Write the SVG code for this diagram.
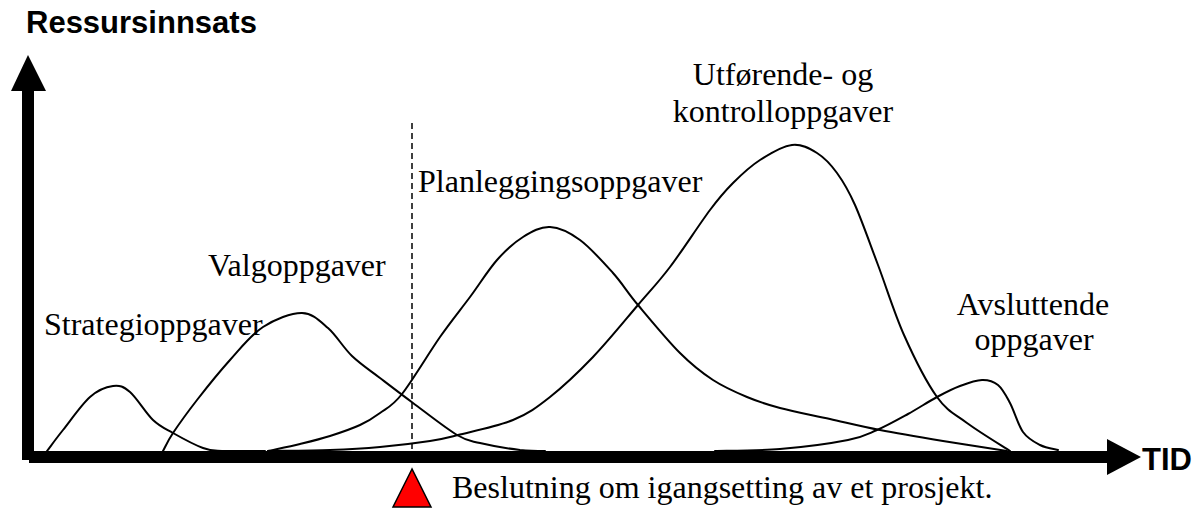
<svg xmlns="http://www.w3.org/2000/svg" width="1199" height="508" viewBox="0 0 1199 508">
<style>
.curve{fill:none;stroke:#000;stroke-width:2;stroke-linejoin:round;stroke-linecap:round}
.lbl{font-family:"Liberation Serif","Times New Roman",serif;font-size:32px;fill:#000}
.bold{font-family:"Liberation Sans",Arial,sans-serif;font-size:31px;font-weight:bold;fill:#000}
.axis{stroke:#000;stroke-width:12;fill:none}
</style>
<rect width="1199" height="508" fill="#fff"/>
<g id="axes">
<line class="axis" x1="28" y1="90" x2="28" y2="460"/>
<line class="axis" x1="29" y1="457" x2="1108" y2="457"/>
<polygon points="28,55 11,91 46,91" fill="#000"/>
<polygon points="1107,439 1141,457 1107,475" fill="#000"/>
<text class="bold" x="26" y="33">Ressursinnsats</text>
<text class="bold" x="1142" y="470">TID</text>
</g>
<g id="decision">
<line x1="412" y1="123" x2="412" y2="451" stroke="#000" stroke-width="1.5" stroke-dasharray="6 4"/>
<polygon points="412,469 393,507 431,507" fill="#ff0000" stroke="#000" stroke-width="1.5"/>
<text class="lbl" x="452" y="498">Beslutning om igangsetting av et prosjekt.</text>
</g>
<g id="connectors">
<path id="strategi-curve" class="curve" d="M47,451 C49.7,447.5 55.8,439 63,430 C70.2,421 81.7,404.3 90,397 C98.3,389.7 106.3,386.8 113,386 C119.7,385.2 123.3,386.3 130,392 C136.7,397.7 145.8,413.2 153,420 C160.2,426.8 164.7,428.3 173,433 C181.3,437.7 194.8,445 203,448 C211.2,451 211.7,450.5 222,451 L265,451"/>
<path id="valg-curve" class="curve" d="M163,451 C164.7,448 167.3,441.5 173,433 C178.7,424.5 187.5,412.2 197,400 C206.5,387.8 219,372.2 230,360 C241,347.8 251,334.8 263,327 C275,319.2 291.2,312.8 302,313 C312.8,313.2 319.7,320.8 328,328 C336.3,335.2 343.3,347.7 352,356 C360.7,364.3 369.8,370.2 380,378 C390.2,385.8 400.2,393.5 413,403 C425.8,412.5 445.8,428.3 457,435 C468.2,441.7 469.5,440.5 480,443 C490.5,445.5 509.2,448.7 520,450 C530.8,451 540.8,451 545,451"/>
<path id="planlegging-curve" class="curve" d="M268,451 C273.3,449.8 289.7,446.5 300,444 C310.3,441.5 320,439.2 330,436 C340,432.8 351.7,428.8 360,425 C368.3,421.2 373,418.2 380,413 C387,407.8 392,406.7 402,394 C412,381.3 428.7,353.2 440,337 C451.3,320.8 460.5,309.8 470,297 C479.5,284.2 488.2,270 497,260 C505.8,250 514.2,242.5 523,237 C531.8,231.5 540.5,226.5 550,227 C559.5,227.5 569.5,232.3 580,240 C590.5,247.7 603.3,262.2 613,273 C622.7,283.8 626.8,291.7 638,305 C649.2,318.3 667.5,340.5 680,353 C692.5,365.5 701.8,372.7 713,380 C724.2,387.3 735.8,392.3 747,397 C758.2,401.7 766.2,404.3 780,408 C793.8,411.7 813.3,415.3 830,419 C846.7,422.7 861.2,426.3 880,430 C898.8,433.7 921.8,437.5 943,441 C964.2,444.5 996.3,449.3 1007,451"/>
<path id="utforende-curve" class="curve" d="M268,451 C278.3,450.8 311.3,450.7 330,450 C348.7,449.3 363.3,448.5 380,447 C396.7,445.5 417,443 430,441 C443,439 444.2,438.5 458,435 C471.8,431.5 497.7,426.3 513,420 C528.3,413.7 536.7,407.5 550,397 C563.3,386.5 578.3,372.3 593,357 C607.7,341.7 625.2,320 638,305 C650.8,290 658,282.8 670,267 C682,251.2 699.5,224 710,210 C720.5,196 724.7,191.3 733,183 C741.3,174.7 750.2,166.3 760,160 C769.8,153.7 782.5,146.2 792,145 C801.5,143.8 809.5,148.3 817,153 C824.5,157.7 830.7,164.3 837,173 C843.3,181.7 848.2,189.7 855,205 C861.8,220.3 869.8,243.3 878,265 C886.2,286.7 894.2,313 904,335 C913.8,357 926.5,382.3 937,397 C947.5,411.7 954.8,414 967,423 C979.2,432 1002.8,446.3 1010,451"/>
<path id="avsluttende-curve" class="curve" d="M715,451 C725.8,450.7 757.8,450.8 780,449 C802.2,447.2 831.8,443.2 848,440 C864.2,436.8 867,434.3 877,430 C887,425.7 898,419.5 908,414 C918,408.5 928.3,401.7 937,397 C945.7,392.3 952.5,388.8 960,386 C967.5,383.2 975.7,380.2 982,380 C988.3,379.8 993.3,381.2 998,385 C1002.7,388.8 1005.8,395.2 1010,403 C1014.2,410.8 1018,425 1023,432 C1028,439 1034.2,442 1040,445 C1045.8,448 1055,449.2 1058,450"/>
</g>
<g id="strategi"><text class="lbl" x="44" y="335">Strategioppgaver</text></g>
<g id="valg"><text class="lbl" x="208" y="276">Valgoppgaver</text></g>
<g id="planlegging"><text class="lbl" x="418" y="192">Planleggingsoppgaver</text></g>
<g id="utforende"><text class="lbl" text-anchor="middle"><tspan x="783" y="85">Utførende- og</tspan><tspan x="783" y="122">kontrolloppgaver</tspan></text></g>
<g id="avsluttende"><text class="lbl" text-anchor="middle"><tspan x="1033" y="315">Avsluttende</tspan><tspan x="1034" y="350">oppgaver</tspan></text></g>
</svg>
